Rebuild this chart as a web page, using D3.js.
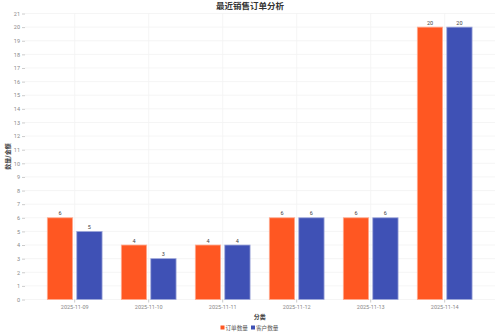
<!DOCTYPE html>
<html>
<head>
<meta charset="utf-8">
<script src="https://cdn.jsdelivr.net/npm/d3@7"></script>
<style>
  body { margin: 0; background: #fff; }
  svg { font-family: "Noto Sans CJK SC", "Noto Sans", sans-serif; }
</style>
</head>
<body>
<div id="chart"></div>
<script>
// data
var categories = ["2025-11-09", "2025-11-10", "2025-11-11", "2025-11-12", "2025-11-13", "2025-11-14"]
var orderCounts = [6, 4, 4, 6, 6, 20]
var customerCounts = [5, 3, 4, 6, 6, 20]
var seriesNames = ["订单数量", "客户数量"]
var yTicks = d3.range(0, 22)

var width = 500, height = 333
var colors = ["#FF5722", "#3F51B5"]
var strokes = ["#ffab91", "#9fa8da"]

var svg = d3.select("#chart").append("svg")
  .attr("width", width).attr("height", height)

var plot = {left: 25, right: 495, top: 13.5, bottom: 299.5}

var x = d3.scaleBand().domain(categories)
  .range([37.7, 481.7]).paddingInner(0.26).paddingOuter(0.13)
var xs = d3.scaleBand().domain(seriesNames)
  .range([0, x.bandwidth()]).paddingInner(0.14)
var y = d3.scaleLinear().domain([0, 21]).range([plot.bottom, plot.top])

// grid
svg.append("g").selectAll("line").data(yTicks).enter().append("line")
  .attr("x1", plot.left).attr("x2", plot.right)
  .attr("y1", function(d){ return y(d) }).attr("y2", function(d){ return y(d) })
  .style("stroke", "#f3f3f3").style("stroke-width", "0.8px")
svg.append("g").selectAll("line").data(categories).enter().append("line")
  .attr("x1", function(d){ return x(d) + x.bandwidth() / 2 })
  .attr("x2", function(d){ return x(d) + x.bandwidth() / 2 })
  .attr("y1", plot.top).attr("y2", plot.bottom)
  .style("stroke", "#f3f3f3").style("stroke-width", "0.8px")

// axes
var yAxis = svg.append("g").attr("transform", "translate(" + plot.left + ",0)")
  .call(d3.axisLeft(y).tickValues(yTicks).tickSize(3).tickPadding(2))
var xAxis = svg.append("g").attr("transform", "translate(0," + plot.bottom + ")")
  .call(d3.axisBottom(x).tickSize(3).tickPadding(3))
;[xAxis, yAxis].forEach(function(a){
  a.select(".domain").remove()
  a.selectAll(".tick line").style("stroke", "#ccc")
  a.selectAll(".tick text").style("fill", "#888").style("font-size", "5.5px")
    .style("font-family", "Roboto, sans-serif")
})

// bars
var rows = categories.map(function(c, i){
  return {cat: c, values: [orderCounts[i], customerCounts[i]]}
})
var groups = svg.append("g").selectAll("g").data(rows).enter().append("g")
  .attr("transform", function(d){ return "translate(" + x(d.cat) + ",0)" })
groups.selectAll("rect").data(function(d){ return d.values }).enter().append("rect")
  .attr("x", function(d, i){ return xs(seriesNames[i]) })
  .attr("width", xs.bandwidth())
  .attr("y", function(d){ return y(d) })
  .attr("height", function(d){ return y(0) - y(d) })
  .style("fill", function(d, i){ return colors[i] })
  .style("stroke", function(d, i){ return strokes[i] })
  .style("stroke-width", "0.8px")
groups.selectAll("text").data(function(d){ return d.values }).enter().append("text")
  .attr("x", function(d, i){ return xs(seriesNames[i]) + xs.bandwidth() / 2 })
  .attr("y", function(d){ return y(d) - 2.5 })
  .attr("text-anchor", "middle")
  .style("font-size", "5.5px").style("font-family", "Roboto, sans-serif")
  .style("fill", "#444").text(function(d){ return d })

// titles
svg.append("text").attr("x", 250).attr("y", 8.5).attr("text-anchor", "middle")
  .style("font-size", "8.5px").style("font-weight", "bold").style("fill", "#333")
  .text("最近销售订单分析")
svg.append("text").attr("transform", "translate(10," + (plot.top + plot.bottom) / 2 + ") rotate(-90)")
  .attr("text-anchor", "middle")
  .style("font-size", "6px").style("font-weight", "bold").style("fill", "#444")
  .text("数量/金额")
svg.append("text").attr("x", 259.7).attr("y", 319).attr("text-anchor", "middle")
  .style("font-size", "6px").style("font-weight", "bold").style("fill", "#444")
  .text("分类")

// legend
var legend = svg.append("g")
var lx = [220.5, 251]
seriesNames.forEach(function(name, i){
  legend.append("rect").attr("x", lx[i]).attr("y", 325.5).attr("width", 4).attr("height", 4)
    .style("fill", colors[i])
  legend.append("text").attr("x", lx[i] + 5).attr("y", 329.8)
    .style("font-size", "5.6px").style("fill", "#555").text(name)
})
</script>
</body>
</html>
